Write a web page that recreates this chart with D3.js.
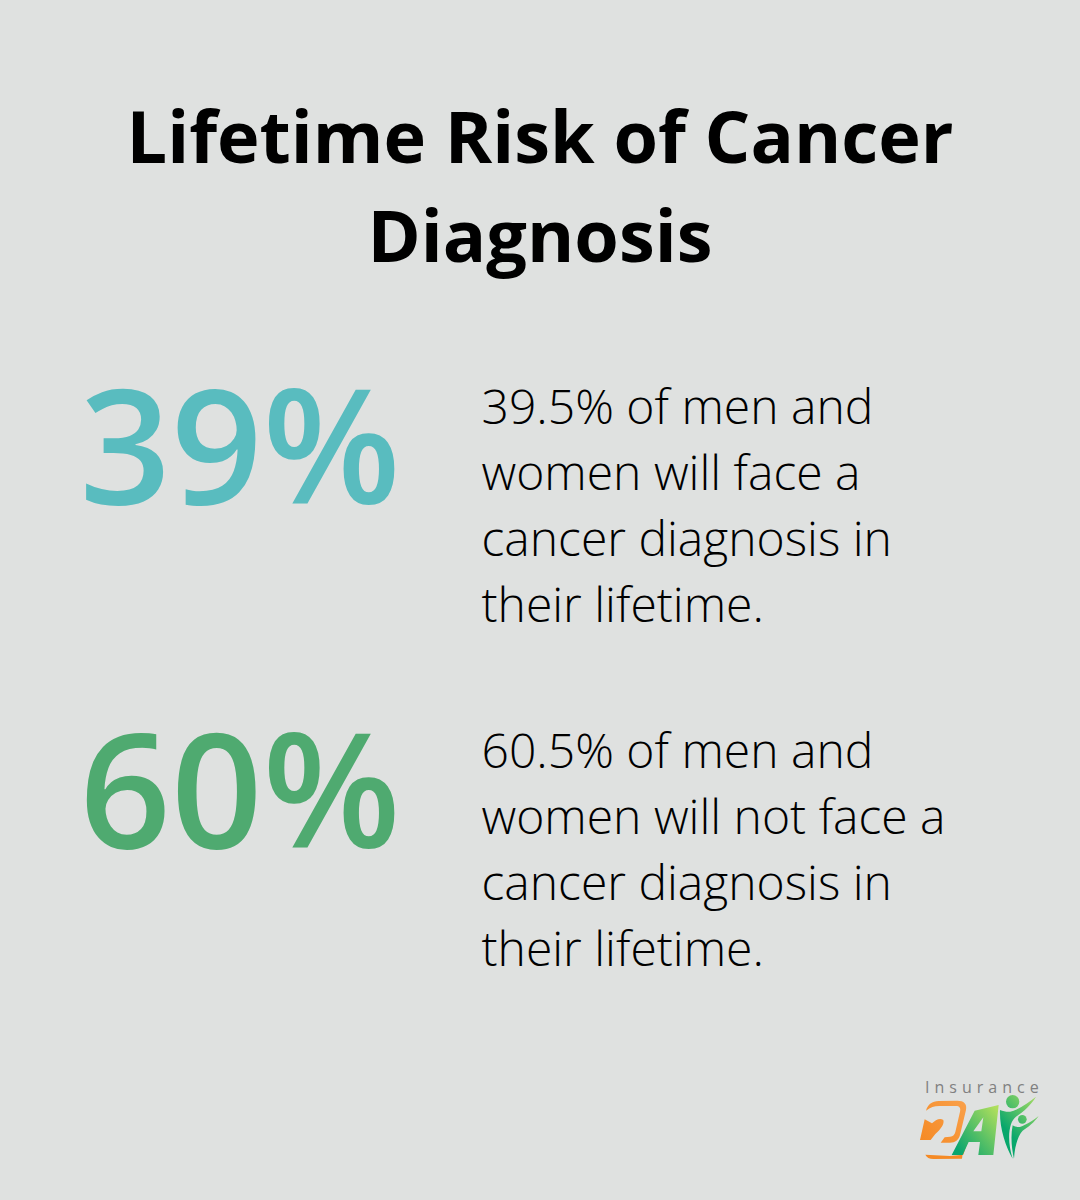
<!DOCTYPE html>
<html>
<head>
<meta charset="utf-8">
<script src="https://cdn.jsdelivr.net/npm/d3@7"></script>
<style>
  html, body { margin: 0; padding: 0; background: #dfe1e0; }
  svg { display: block; }
  text { font-family: "Open Sans", sans-serif; }
</style>
</head>
<body>
<svg id="chart"></svg>
<script>
const titleLines = ['Lifetime Risk of Cancer', 'Diagnosis'];
const statValues = [39, 60];
const statColors = ['#59bcbf', '#4faa70'];
const statTexts = [
  ['39.5% of men and', 'women will face a', 'cancer diagnosis in', 'their lifetime.'],
  ['60.5% of men and', 'women will not face a', 'cancer diagnosis in', 'their lifetime.']
];

const width = 1080, height = 1200;
const svg = d3.select('#chart').attr('width', width).attr('height', height);

svg.append('rect').attr('width', width).attr('height', height).attr('fill', '#dfe1e0');

// title
svg.selectAll('.title')
  .data(titleLines)
  .enter().append('text')
  .attr('class', 'title')
  .attr('x', 540)
  .attr('y', (d, i) => 163 + i * 99)
  .attr('text-anchor', 'middle')
  .attr('font-size', 72)
  .attr('font-weight', 700)
  .attr('fill', '#000')
  .text(d => d);

const rowY = d3.scalePoint().domain(d3.range(statValues.length)).range([0, 344]);

const rows = svg.selectAll('.row')
  .data(statValues)
  .enter().append('g')
  .attr('class', 'row')
  .attr('transform', (d, i) => `translate(0,${rowY(i)})`);

rows.append('text')
  .attr('x', 240)
  .attr('y', 504)
  .attr('text-anchor', 'middle')
  .attr('font-size', 160)
  .attr('font-weight', 600)
  .attr('fill', (d, i) => statColors[i])
  .text(d => d + '%');

rows.each(function (d, i) {
  d3.select(this).selectAll('.line')
    .data(statTexts[i])
    .enter().append('text')
    .attr('class', 'line')
    .attr('x', 481.5)
    .attr('y', (t, j) => 424 + j * 66)
    .attr('font-size', 48)
    .attr('font-weight', 300)
    .attr('fill', '#000')
    .text(t => t);
});

// logo, paths are in the 3x crop units so scale back down
const defs = svg.append('defs');
const addGrad = (id, x1, y1, x2, y2, c1, c2) => {
  const g = defs.append('linearGradient').attr('id', id)
    .attr('gradientUnits', 'userSpaceOnUse')
    .attr('x1', x1).attr('y1', y1).attr('x2', x2).attr('y2', y2);
  g.append('stop').attr('offset', '0%').attr('stop-color', c1);
  g.append('stop').attr('offset', '100%').attr('stop-color', c2);
};
addGrad('logo-orange', 60, 240, 200, 130, '#f58a25', '#f9a04a');
addGrad('logo-a', 165, 260, 295, 150, '#0aa56e', '#b0df5c');
addGrad('logo-p', 310, 200, 410, 110, '#08a76c', '#a9dd62');

svg.append('text')
  .attr('x', 925).attr('y', 1092.5)
  .attr('font-size', 16).attr('font-weight', 500).attr('letter-spacing', 5)
  .attr('fill', '#808080').text('Insurance');

const logo = svg.append('g').attr('class', 'logo')
  .attr('transform', 'translate(900,1060) scale(0.3333)');

// orange 2
logo.append('path')
  .attr('fill', 'url(#logo-orange)')
  .attr('d', 'M78 152 C84 132 96 124 116 123 L172 122 C192 122 202 132 198 150 L180 225 C176 240 166 248 150 248 L122 248 L134 232 L150 230 C160 230 164 224 166 216 L180 155 C183 144 178 138 168 138 L118 138 C102 138 92 142 78 152 Z');
logo.append('path')
  .attr('fill', 'url(#logo-orange)')
  .attr('d', 'M60 240 L74 178 L96 190 C106 180 120 172 130 180 C134 192 122 208 106 222 L92 240 Z');
logo.append('path')
  .attr('fill', '#f58a25')
  .attr('d', 'M76 284 L150 288 L190 284 L202 248 L192 248 L186 296 L100 297 C88 297 80 292 76 284 Z');

// green A
logo.append('path')
  .attr('fill', 'url(#logo-a)')
  .attr('fill-rule', 'evenodd')
  .attr('d', 'M155 285 L224 152 L296 135 L280 285 L235 285 L240 246 L206 246 L188 285 Z M220 214 L244 214 L250 172 Z');

// two figures
logo.append('circle').attr('cx', 338).attr('cy', 125).attr('r', 20).attr('fill', 'url(#logo-p)');
logo.append('circle').attr('cx', 367).attr('cy', 178).attr('r', 13).attr('fill', 'url(#logo-p)');
logo.append('path')
  .attr('fill', 'url(#logo-p)')
  .attr('d', 'M300 150 C316 156 332 158 346 150 C368 140 390 125 408 110 C394 134 370 156 348 170 C326 186 320 240 338 296 C316 260 298 200 300 150 Z');
logo.append('path')
  .attr('fill', 'url(#logo-p)')
  .attr('d', 'M338 196 C348 202 360 204 372 196 C388 188 404 178 416 168 C404 186 384 202 368 212 C354 226 344 260 342 296 C334 262 332 226 338 196 Z');
</script>
</body>
</html>
